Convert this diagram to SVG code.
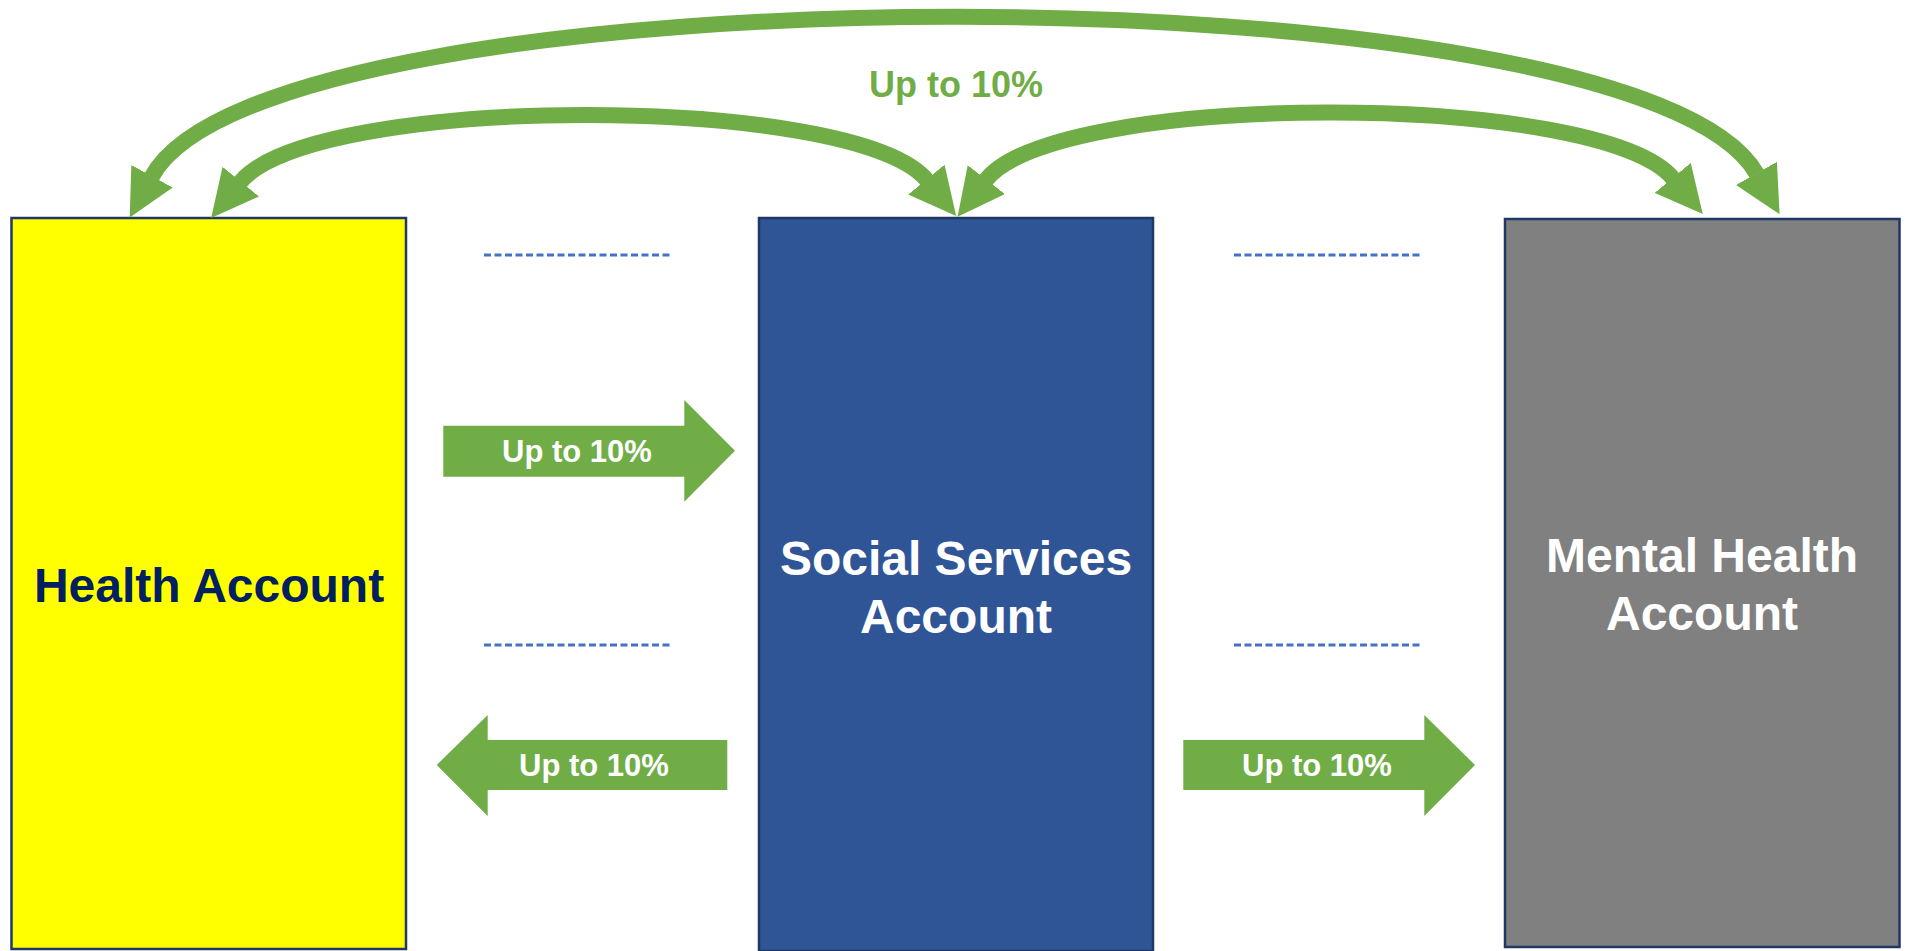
<svg xmlns="http://www.w3.org/2000/svg" width="1906" height="951" viewBox="0 0 1906 951">
<style>
  .box { stroke: #1F3864; stroke-width: 2.5; }
  .label { font-family: "Liberation Sans", Arial, sans-serif; font-weight: bold; text-anchor: middle; }
  .arc { fill: none; stroke: #70AD47; stroke-width: 16; }
  .block { fill: #70AD47; }
  .dash { stroke: #4472C4; stroke-width: 3; stroke-dasharray: 7 3.5; fill: none; }
</style>
<defs>
  <marker id="head" markerUnits="userSpaceOnUse" viewBox="0 0 47 47" refX="0.5" refY="23.5" markerWidth="47" markerHeight="47" orient="auto-start-reverse">
    <path d="M0,0 L47,23.5 L0,47 Z" fill="#70AD47"/>
  </marker>
</defs>
<rect width="1906" height="951" fill="#FFFFFF"/>

<g id="health">
  <rect class="box" x="11.5" y="218" width="394.5" height="731" fill="#FFFF00"/>
  <text class="label" x="209" y="602" font-size="48" fill="#002060">Health Account</text>
</g>
<g id="social">
  <rect class="box" x="759" y="218" width="394" height="733" fill="#2F5597"/>
  <text class="label" x="956" y="575" font-size="48" fill="#FFFFFF">Social Services</text>
  <text class="label" x="956" y="633" font-size="48" fill="#FFFFFF">Account</text>
</g>
<g id="mental">
  <rect class="box" x="1505" y="219" width="394.5" height="728" fill="#808080"/>
  <text class="label" x="1702" y="572" font-size="48" fill="#FFFFFF">Mental Health</text>
  <text class="label" x="1702" y="630" font-size="48" fill="#FFFFFF">Account</text>
</g>

<g id="dividers">
  <line class="dash" x1="484" y1="255" x2="673" y2="255"/>
  <line class="dash" x1="484" y1="645" x2="673" y2="645"/>
  <line class="dash" x1="1234" y1="255" x2="1423" y2="255"/>
  <line class="dash" x1="1234" y1="645" x2="1423" y2="645"/>
</g>

<g id="connectors">
  <path id="arc-outer" class="arc" d="M151.8,176.7 C266.8,-36 1638.1,-36 1756.7,173.8" marker-start="url(#head)" marker-end="url(#head)"/>
  <path id="arc-left" class="arc" d="M240.5,182 C312.8,93 855.3,93 926.7,180" marker-start="url(#head)" marker-end="url(#head)"/>
  <path id="arc-right" class="arc" d="M986,180 C1055.3,90.3 1599.8,90.3 1673,178.3" marker-start="url(#head)" marker-end="url(#head)"/>
  <text class="label" x="956" y="97" font-size="36" fill="#70AD47">Up to 10%</text>

  <g id="flow-health-social">
    <polygon class="block" points="443.3,425.7 684.3,425.7 684.3,400 735,450.7 684.3,501.7 684.3,476.7 443.3,476.7"/>
    <text class="label" x="577" y="462" font-size="31" fill="#FFFFFF">Up to 10%</text>
  </g>
  <g id="flow-social-health">
    <polygon class="block" points="727.3,740 487.7,740 487.7,715 436.7,765 487.7,816 487.7,790 727.3,790"/>
    <text class="label" x="594" y="776" font-size="31" fill="#FFFFFF">Up to 10%</text>
  </g>
  <g id="flow-social-mental">
    <polygon class="block" points="1183.3,740 1424.3,740 1424.3,715 1475,765 1424.3,816 1424.3,790 1183.3,790"/>
    <text class="label" x="1317" y="776" font-size="31" fill="#FFFFFF">Up to 10%</text>
  </g>
</g>
</svg>
